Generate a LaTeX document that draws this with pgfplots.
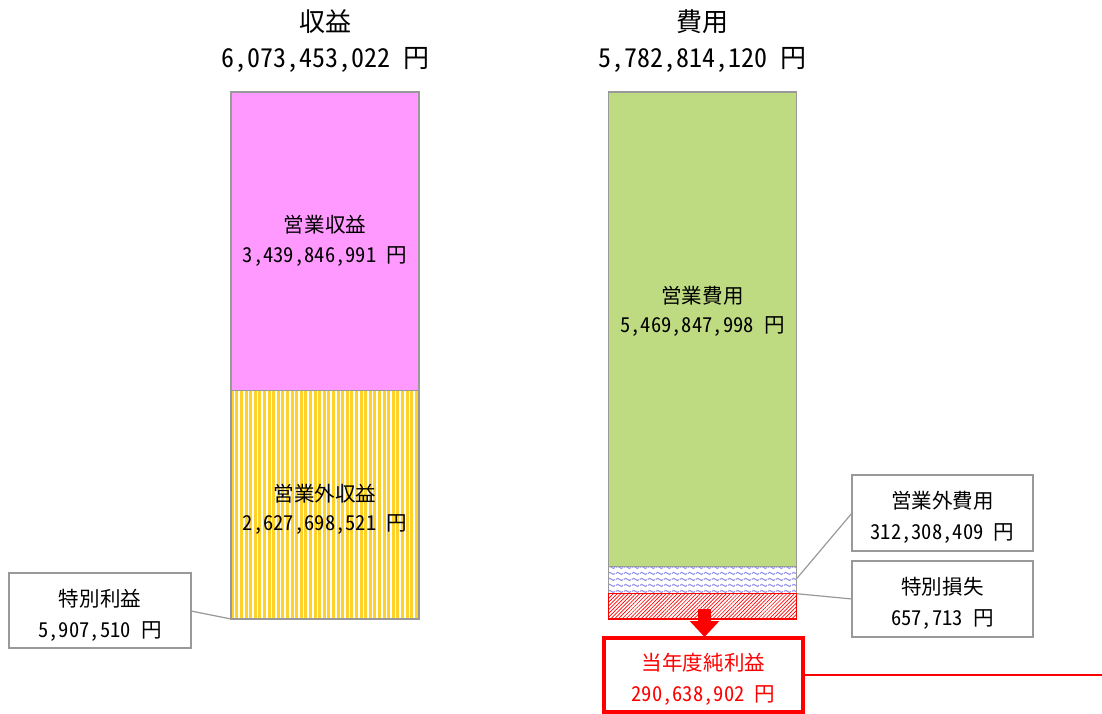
\documentclass[border=0pt]{standalone}
\usepackage{pgfplots}
\pgfplotsset{compat=1.18}
\usepackage{fontspec}
\setmainfont{Noto Sans CJK JP}[RawFeature=+hwid]
\usetikzlibrary{patterns,patterns.meta,arrows.meta}

\definecolor{pinkc}{HTML}{FF99FF}
\definecolor{greenc}{HTML}{BFDB82}
\definecolor{stripey}{HTML}{FFD22A}
\definecolor{wavec}{HTML}{9A9AE8}
\definecolor{boxgray}{HTML}{999999}

% wavy lines for 営業外費用
\pgfdeclarepatternformonly{waves}{\pgfqpoint{0pt}{0pt}}{\pgfqpoint{6pt}{4.5pt}}{\pgfqpoint{6pt}{4.5pt}}{%
  \pgfsetlinewidth{0.95pt}
  \pgfpathmoveto{\pgfqpoint{0pt}{2.25pt}}
  \pgfpathcurveto{\pgfqpoint{1pt}{3.4pt}}{\pgfqpoint{2pt}{3.4pt}}{\pgfqpoint{3pt}{2.25pt}}
  \pgfpathcurveto{\pgfqpoint{4pt}{1.1pt}}{\pgfqpoint{5pt}{1.1pt}}{\pgfqpoint{6pt}{2.25pt}}
  \pgfusepath{stroke}}

\newcommand\ttl{\fontsize{19.5}{22}\selectfont}
\newcommand\lbl{\fontsize{15.4}{18}\selectfont}
\newcommand\lblb{\fontsize{15.4}{23.25}\selectfont}

\pgfplotsset{base/.style={
  scale only axis, width=826.5pt, height=534.75pt,
  xmin=0, xmax=1102, ymin=-1083310332, ymax=7133714198,
  hide axis, clip=false, ybar stacked, bar width=188,
}}
\tikzset{callout/.style={draw=boxgray, line width=1.1pt, fill=white, inner sep=0pt},
  txt/.style={font=\lblb, align=center, yshift=-3.5pt}}

\begin{document}
\begin{tikzpicture}
% 収益
\begin{axis}[base]
\addplot[fill=stripey, draw=boxgray, line width=0.9pt] coordinates {(325,5907510)};   % 特別利益
\addplot[fill=stripey, draw=boxgray, line width=0.9pt,
  postaction={pattern={Lines[angle=90,distance=3.45pt,line width=1.1pt]}, pattern color=white}]
  coordinates {(325,2627698521)};                                 % 営業外収益
\addplot[fill=pinkc, draw=boxgray, line width=0.9pt] coordinates {(325,3439846991)};   % 営業収益
\coordinate (bl) at (rel axis cs:0,0);
\coordinate (tr) at (rel axis cs:1,1);
\end{axis}
% 費用
\begin{axis}[base]
\addplot[fill=white, draw=red, line width=0.9pt,
  postaction={pattern={Lines[angle=45,distance=2pt,line width=0.5pt]}, pattern color=red}]
  coordinates {(702.5,290638902)};                                % 当年度純利益
\addplot[fill=white, draw=boxgray, line width=0.9pt] coordinates {(702.5,657713)};     % 特別損失
\addplot[fill=white, draw=boxgray, line width=0.9pt, postaction={pattern=waves, pattern color=wavec}]
  coordinates {(702.5,312308409)};                                % 営業外費用
\addplot[fill=greenc, draw=boxgray, line width=0.9pt] coordinates {(702.5,5469847998)};% 営業費用
\end{axis}
% annotations
\begin{axis}[base]
\draw[boxgray, line width=0.9pt] (rel axis cs:0.17332,0.14306) -- (axis cs:231,0);
\draw[boxgray, line width=0.9pt] (rel axis cs:0.77314,0.28050) -- (axis cs:797,470000000);
\draw[boxgray, line width=0.9pt] (rel axis cs:0.77314,0.15989) -- (axis cs:797,291296615);
\draw[red, line width=9.5pt, -{Triangle[length=12pt,width=21.5pt]}]
  (rel axis cs:0.63929,0.14586) -- (rel axis cs:0.63929,0.10659);
\draw[red, line width=0.8pt] (rel axis cs:0.72868,0.05330) -- (rel axis cs:1,0.05330);

% titles
\node[font=\ttl] at (rel axis cs:0.29492,0.96914) {収益};
\node[font=\ttl] at (rel axis cs:0.29492,0.91585) {6,073,453,022 円};
\node[font=\ttl] at (rel axis cs:0.63748,0.96914) {費用};
\node[font=\ttl] at (rel axis cs:0.63748,0.91585) {5,782,814,120 円};

% labels inside the bars
\node[font=\lbl] at (rel axis cs:0.29492,0.68443) {営業収益};
\node[font=\lbl] at (rel axis cs:0.29492,0.63955) {3,439,846,991 円};
\node[font=\lbl] at (rel axis cs:0.29492,0.30715) {営業外収益};
\node[font=\lbl] at (rel axis cs:0.29492,0.26367) {2,627,698,521 円};
\node[font=\lbl] at (rel axis cs:0.63748,0.58485) {営業費用};
\node[font=\lbl] at (rel axis cs:0.63748,0.54137) {5,469,847,998 円};

% callout boxes
\node[callout, minimum width=136.5pt, minimum height=56.25pt,
  label={[txt]center:特別利益\\5,907,510 円}] at (rel axis cs:0.09074,0.14376) {};
\node[callout, minimum width=135.75pt, minimum height=57pt,
  label={[txt]center:営業外費用\\312,308,409 円}] at (rel axis cs:0.85526,0.28050) {};
\node[callout, minimum width=135.75pt, minimum height=57pt,
  label={[txt]center:特別損失\\657,713 円}] at (rel axis cs:0.85526,0.15989) {};

% net income
\node[callout, draw=red, line width=2.6pt, minimum width=149.25pt, minimum height=55.5pt,
  label={[txt, text=red, yshift=0pt]center:当年度純利益\\290,638,902 円}] at (rel axis cs:0.63838,0.05330) {};
\end{axis}
\pgfresetboundingbox
\path[use as bounding box] (bl) rectangle (tr);
\end{tikzpicture}
\end{document}
